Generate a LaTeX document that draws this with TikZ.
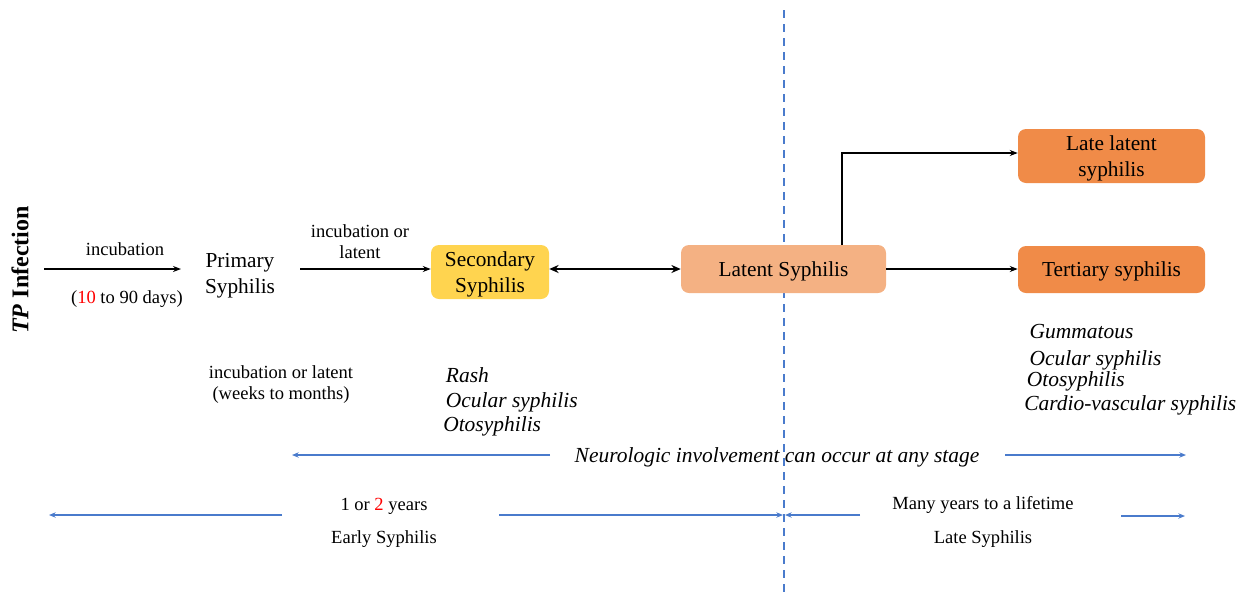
\documentclass[tikz,border=0pt]{standalone}
\usepackage{fontspec}
\setmainfont{Liberation Serif}
\usetikzlibrary{arrows.meta}

\definecolor{secyellow}{HTML}{FFD44F}
\definecolor{latorange}{HTML}{F4B183}
\definecolor{lateorange}{HTML}{F08B48}
\definecolor{lineblue}{HTML}{4A7BCC}

\begin{document}
\begin{tikzpicture}[x=0.75pt,y=-0.75pt,
  box/.style={rounded corners=6pt, inner sep=0pt, align=center, text depth=0pt,
    font=\fontsize{16}{19.5}\selectfont},
  lbl/.style={inner sep=0pt, align=center, font=\fontsize{13.9}{15.75}\selectfont},
  sym/.style={inner sep=0pt, align=left, anchor=west,
    font=\fontsize{16.1}{18.2}\selectfont\itshape},
  arr/.style={-{Stealth[length=6pt,width=4.5pt]}, line width=0.9pt},
  dblarr/.style={{Stealth[length=7pt,width=6pt]}-{Stealth[length=7pt,width=6pt]}, line width=1.4pt},
  bluearr/.style={draw=lineblue, line width=0.9pt, -{Stealth[length=5pt,width=4pt]}}]
  \useasboundingbox (0,0) rectangle (1254,597);

  \coordinate (divtop) at (784,10);
  \coordinate (divbot) at (784,597);
  \draw[lineblue, line width=1.5pt, dash pattern=on 6pt off 4.5pt] (divtop) -- (divbot);

  \node[rotate=90, inner sep=0pt, font=\fontsize{18}{20}\selectfont\bfseries] (tp) at (20,270) {\textit{TP} Infection};

  \coordinate (start) at (44,269);
  \node[inner sep=0pt, align=center, font=\fontsize{16}{19.5}\selectfont] (prim) at (240,276) {Primary\\Syphilis};
  \node[box, fill=secyellow, minimum width=88.5pt, minimum height=40.5pt] (sec) at (490,272) {Secondary\\Syphilis};
  \node[box, fill=latorange, minimum width=153.75pt, minimum height=36pt] (lat) at (783.5,269) {Latent Syphilis};
  \node[box, fill=lateorange, minimum width=140.25pt, minimum height=40.5pt] (late) at (1111.5,156) {Late latent\\syphilis};
  \node[box, fill=lateorange, minimum width=140.25pt, minimum height=35.25pt] (tert) at (1111.5,269.5) {Tertiary syphilis};

  \coordinate (incend) at (181,269);
  \coordinate (primout) at (300,269);
  \coordinate (branch) at (842,245);
  \draw[arr] (start) -- (incend);
  \draw[arr] (primout) -- (sec.west |- primout);
  \draw[dblarr] (sec.east |- lat.west) -- (lat.west);
  \draw[arr] (branch) |- (late.west |- 0,153);
  \draw[arr] (lat.east) -- (tert.west |- lat.east);

  \node[lbl] (inc) at (125,249) {incubation};
  \node[lbl] (days) at (127,299) {(\textcolor{red}{10} to 90 days)};
  \node[lbl] (incsec) at (360,242) {incubation or\\latent};
  \node[lbl] (inclat) at (281,385) {incubation or latent\\(weeks to months)};

  \node[sym] (secsym) at (443,402) {\hspace{2pt}Rash\\\hspace{2pt}Ocular syphilis\\Otosyphilis};
  \node[sym] (tertsym) at (1024,370) {\hspace{4pt}Gummatous\\[2pt]\hspace{4pt}Ocular syphilis\\[-2.5pt]\hspace{2pt}Otosyphilis\\Cardio-vascular syphilis};

  \node[inner sep=0pt, font=\fontsize{16.1}{18}\selectfont\itshape] (neuro) at (777,457) {Neurologic involvement can occur at any stage};
  \coordinate (neuroLa) at (550,455);
  \coordinate (neuroLb) at (292,455);
  \coordinate (neuroRa) at (1005,455);
  \coordinate (neuroRb) at (1186,455);
  \draw[bluearr] (neuroLa) -- (neuroLb);
  \draw[bluearr] (neuroRa) -- (neuroRb);

  \node[lbl] (early) at (384,506.5) {1 or \textcolor{red}{2} years};
  \node[lbl] (earlyname) at (384,539) {Early Syphilis};
  \node[lbl] (late2) at (983,505) {Many years to a lifetime};
  \node[lbl] (latename) at (983,539) {Late Syphilis};
  \coordinate (earlyLa) at (282,515);
  \coordinate (earlyLb) at (49,515);
  \coordinate (earlyRa) at (499,515);
  \coordinate (earlyRb) at (783,515);
  \coordinate (lateLa) at (860,515);
  \coordinate (lateLb) at (785,515);
  \coordinate (lateRa) at (1121,516);
  \coordinate (lateRb) at (1185,516);
  \draw[bluearr] (earlyLa) -- (earlyLb);
  \draw[bluearr] (earlyRa) -- (earlyRb);
  \draw[bluearr] (lateLa) -- (lateLb);
  \draw[bluearr] (lateRa) -- (lateRb);
\end{tikzpicture}
\end{document}
